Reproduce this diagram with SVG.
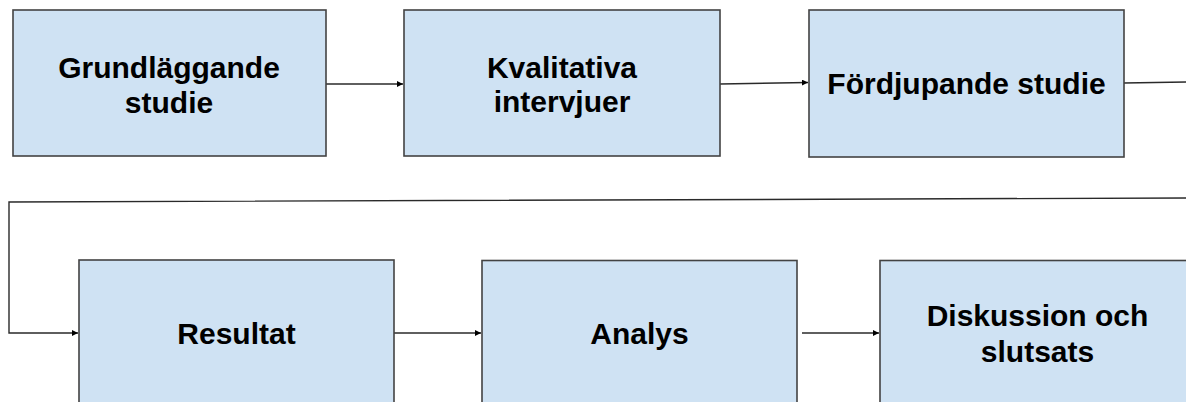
<svg xmlns="http://www.w3.org/2000/svg" width="1186" height="402" viewBox="0 0 1186 402">
  <style>
    .box { fill: #cfe2f3; stroke: #434343; stroke-width: 1.6; }
    .lbl { font-family: "Liberation Sans", Arial, sans-serif; font-weight: bold; font-size: 30px; fill: #000; text-anchor: middle; }
    .conn { fill: none; stroke: #2a2a2a; stroke-width: 1.4; }
  </style>
  <defs>
    <marker id="arrow" viewBox="0 0 10 10" refX="10" refY="5" markerWidth="6" markerHeight="6" markerUnits="userSpaceOnUse" orient="auto">
      <path d="M0,0 L10,5 L0,10 z" fill="#000"/>
    </marker>
  </defs>
  <rect width="1186" height="402" fill="#fff"/>
  <g id="connectors">
    <line class="conn" x1="326" y1="84" x2="403" y2="84" marker-end="url(#arrow)"/>
    <line class="conn" x1="720" y1="84" x2="808" y2="82.5" marker-end="url(#arrow)"/>
    <line class="conn" x1="1124" y1="83" x2="1186" y2="82"/>
    <polyline class="conn" points="1186,198 9,202 9,333 78,333" marker-end="url(#arrow)"/>
    <line class="conn" x1="394" y1="333" x2="481" y2="333" marker-end="url(#arrow)"/>
    <line class="conn" x1="802" y1="333" x2="879" y2="333" marker-end="url(#arrow)"/>
  </g>
  <g id="node-grundlaggande">
    <rect class="box" x="13" y="10" width="313" height="146"/>
    <text class="lbl" x="169" y="78">Grundläggande</text>
    <text class="lbl" x="169" y="113">studie</text>
  </g>
  <g id="node-kvalitativa">
    <rect class="box" x="404" y="10" width="316" height="146"/>
    <text class="lbl" x="562" y="77.5">Kvalitativa</text>
    <text class="lbl" x="562" y="112">intervjuer</text>
  </g>
  <g id="node-fordjupande">
    <rect class="box" x="809" y="10" width="315" height="147"/>
    <text class="lbl" x="966.5" y="94">Fördjupande studie</text>
  </g>
  <g id="node-resultat">
    <rect class="box" x="79" y="260" width="315" height="146"/>
    <text class="lbl" x="236.5" y="344">Resultat</text>
  </g>
  <g id="node-analys">
    <rect class="box" x="482" y="260.5" width="315" height="146"/>
    <text class="lbl" x="639.5" y="344">Analys</text>
  </g>
  <g id="node-diskussion">
    <rect class="box" x="880" y="260.5" width="315" height="146"/>
    <text class="lbl" x="1037.5" y="326">Diskussion och</text>
    <text class="lbl" x="1037.5" y="362">slutsats</text>
  </g>
</svg>
